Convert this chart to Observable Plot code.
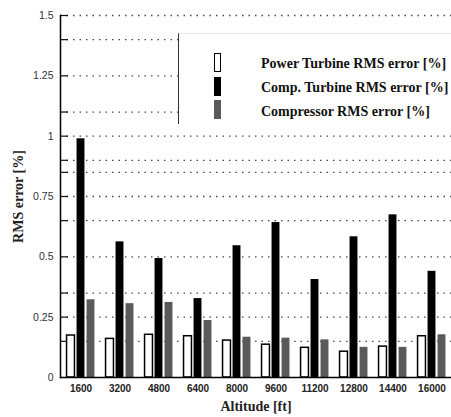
<!DOCTYPE html>
<html><head><meta charset="utf-8">
<script src="https://cdn.jsdelivr.net/npm/d3@7"></script>
<script src="https://cdn.jsdelivr.net/npm/@observablehq/plot@0.6"></script>
<style>
body{margin:0;background:#fff;}
#wrap{position:relative;width:451px;height:417px;overflow:hidden;}
#legend{position:absolute;left:178px;top:33px;width:273px;height:90px;background:#fff;border-left:1.2px solid #333;border-top:1px solid #e8e8e8;font-family:"Liberation Serif",serif;font-weight:bold;font-size:14px;color:#111;}
.sw{position:absolute;left:35px;width:7px;height:19px;box-sizing:border-box;}
.lab{position:absolute;left:82px;white-space:nowrap;line-height:16px;}
</style></head>
<body><div id="wrap"></div>
<script>
const altitudes = ["1600","3200","4800","6400","8000","9600","11200","12800","14400","16000"];
const powerTurbine = [0.174,0.160,0.177,0.171,0.153,0.136,0.123,0.107,0.128,0.171];
const compTurbine  = [0.989,0.562,0.493,0.327,0.546,0.642,0.406,0.583,0.674,0.440];
const compressor   = [0.322,0.306,0.311,0.236,0.167,0.163,0.156,0.125,0.125,0.177];
const seriesNames = ["Power Turbine RMS error [%]","Comp. Turbine RMS error [%]","Compressor RMS error [%]"];
const yTicks = [0,0.25,0.5,0.75,1,1.25,1.5];
const yTickLabels = ["0","0.25","0.5","0.75","1","1.25","1.5"];
const gridValues = [0.15,0.25,0.35,0.5,0.65,0.75,0.85,0.9,1,1.1,1.25,1.4,1.5];

const data = altitudes.map((a,i)=>({alt:a, p:powerTurbine[i], c:compTurbine[i], k:compressor[i]}));
const W = 451, H = 417, mL = 60, mR = 0;
const step = (W - mL - mR) / altitudes.length;
const half = step/2;
const barW = 8;
const off = [-14, -4, 6];
const ins = o => ({insetLeft: half + o, insetRight: half - o - barW});

const chart = Plot.plot({
  width: W, height: H,
  marginLeft: mL, marginRight: mR, marginTop: 15, marginBottom: 40,
  style: {fontFamily: "'Liberation Sans', Arial, sans-serif", fontSize: "10px", background: "#fff"},
  x: {type: "band", domain: altitudes, padding: 0},
  y: {domain: [0, 1.5]},
  marks: [
    Plot.gridY(gridValues, {stroke: "#333", strokeOpacity: 0.9, strokeDasharray: "1.5,5", strokeWidth: 1.3}),
    Plot.tickY(gridValues, {y: d=>d, stroke: "#111", strokeWidth: 1.2, insetRight: W - mL - mR - 8}),
    Plot.barY(data, {x: "alt", y: "p", fill: "#fff", stroke: "#000", strokeWidth: 1.5, ...ins(off[0])}),
    Plot.barY(data, {x: "alt", y: "c", fill: "#000", ...ins(off[1])}),
    Plot.barY(data, {x: "alt", y: "k", fill: "#5a5a5a", ...ins(off[2])}),
    Plot.frame({anchor: "left", stroke: "#000", strokeWidth: 1.5}),
    Plot.frame({anchor: "bottom", stroke: "#000", strokeWidth: 1.5}),
    Plot.axisY(yTicks, {tickSize: 0, tickPadding: 7, tickFormat: d=>yTickLabels[yTicks.indexOf(d)], fontSize: 10.5, fill: "#333",
      label: "RMS error [%]", labelAnchor: "center", labelArrow: "none", labelOffset: 47}),
    Plot.axisX({tickSize: 0, tickPadding: 7, fontSize: 10, fontWeight: "bold", fill: "#222",
      label: "Altitude [ft]", labelAnchor: "center", labelArrow: "none", labelOffset: 33})
  ]
});
chart.querySelectorAll("g[aria-label='y-axis label'] text, g[aria-label='x-axis label'] text").forEach(t=>{
  t.setAttribute("font-family","'Liberation Serif', serif");
  t.setAttribute("font-weight","bold");
  t.setAttribute("font-size","14");
  t.setAttribute("fill","#222");
});
const wrap = document.getElementById("wrap");
wrap.appendChild(chart);

const legend = document.createElement("div");
legend.id = "legend";
const swStyles = [
  {background:"#fff", border:"1.5px solid #000"},
  {background:"#000"},
  {background:"#5a5a5a"}
];
const swTops = [19, 43, 66];
const labTops = [22, 46, 70];
seriesNames.forEach((name,i)=>{
  const sw = document.createElement("div");
  sw.className = "sw";
  Object.assign(sw.style, swStyles[i], {top: swTops[i] + "px"});
  legend.appendChild(sw);
  const lab = document.createElement("div");
  lab.className = "lab";
  lab.textContent = name;
  lab.style.top = labTops[i] + "px";
  legend.appendChild(lab);
});
wrap.appendChild(legend);
</script>
</body></html>
